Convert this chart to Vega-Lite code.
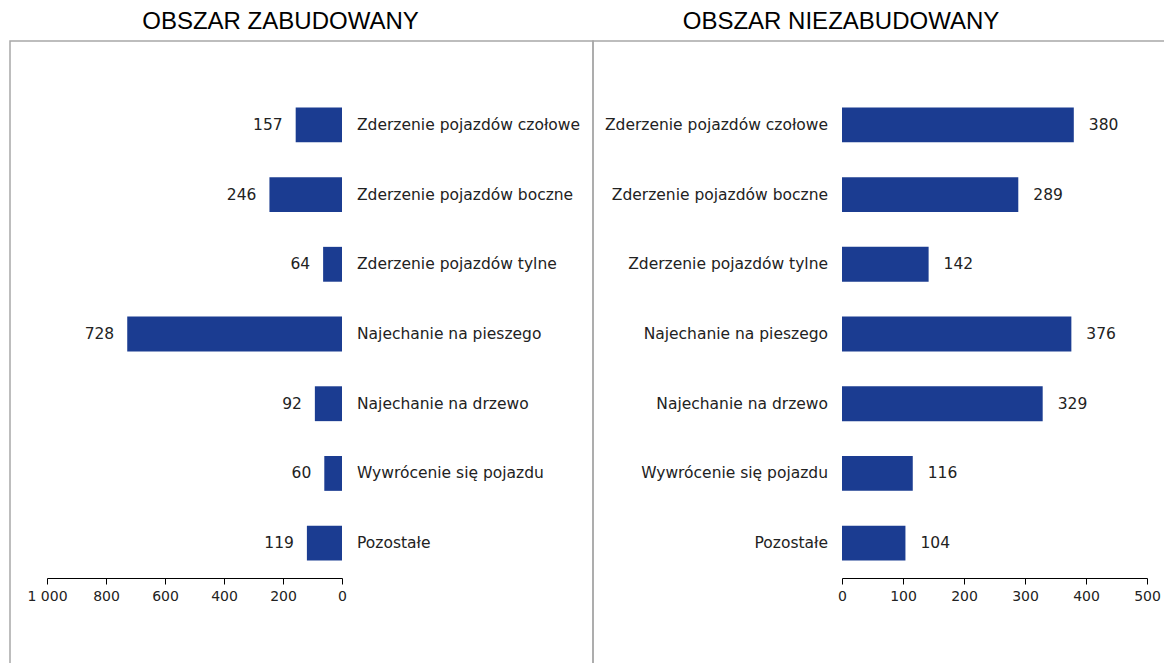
{
  "$schema": "https://vega.github.io/schema/vega-lite/v6.json",
  "padding": {"left": 9, "top": 9, "right": 0, "bottom": 0},
  "background": "white",
  "spacing": 0,
  "bounds": "flush",
  "config": {
    "view": {"stroke": "#a8a8a8", "strokeWidth": 1.5},
    "font": "DejaVu Sans",
    "title": {"font": "Liberation Sans", "fontSize": 24, "fontWeight": "normal", "color": "#000", "anchor": "middle", "baseline": "alphabetic", "offset": 7},
    "axis": {"labelFont": "DejaVu Sans", "labelFontSize": 14, "labelColor": "#222", "domainColor": "#000", "tickColor": "#000", "tickSize": 6, "grid": false, "title": null, "labelPadding": 5, "labelFlush": false}
  },
  "datasets": {
    "zab": [
      {"cat": "Zderzenie pojazdów czołowe", "v": 157},
      {"cat": "Zderzenie pojazdów boczne", "v": 246},
      {"cat": "Zderzenie pojazdów tylne", "v": 64},
      {"cat": "Najechanie na pieszego", "v": 728},
      {"cat": "Najechanie na drzewo", "v": 92},
      {"cat": "Wywrócenie się pojazdu", "v": 60},
      {"cat": "Pozostałe", "v": 119}
    ],
    "niezab": [
      {"cat": "Zderzenie pojazdów czołowe", "v": 380},
      {"cat": "Zderzenie pojazdów boczne", "v": 289},
      {"cat": "Zderzenie pojazdów tylne", "v": 142},
      {"cat": "Najechanie na pieszego", "v": 376},
      {"cat": "Najechanie na drzewo", "v": 329},
      {"cat": "Wywrócenie się pojazdu", "v": 116},
      {"cat": "Pozostałe", "v": 104}
    ]
  },
  "hconcat": [
    {
      "title": {"text": "OBSZAR ZABUDOWANY", "dx": -21},
      "width": 583,
      "height": 630,
      "data": {"name": "zab"},
      "encoding": {
        "y": {"field": "cat", "type": "nominal", "sort": null, "axis": null,
              "scale": {"range": [49, 537], "paddingInner": 0.5, "paddingOuter": 0.25}}
      },
      "layer": [
        {
          "mark": {"type": "bar", "color": "#1b3c91"},
          "encoding": {
            "x": {"field": "v", "type": "quantitative",
                  "scale": {"domain": [0, 1000], "range": [332, 37], "nice": false},
                  "axis": {"values": [0, 200, 400, 600, 800, 1000], "offset": -93,
                           "labelExpr": "datum.value == 1000 ? '1 000' : datum.label"}}
          }
        },
        {
          "mark": {"type": "text", "align": "right", "dx": -13, "fontSize": 15.5, "color": "#222"},
          "encoding": {"x": {"field": "v", "type": "quantitative"}, "text": {"field": "v"}}
        },
        {
          "mark": {"type": "text", "align": "left", "dx": 15, "fontSize": 15.5, "color": "#222"},
          "encoding": {"x": {"datum": 0, "type": "quantitative"}, "text": {"field": "cat"}}
        }
      ]
    },
    {
      "title": {"text": "OBSZAR NIEZABUDOWANY", "dx": -42},
      "width": 580,
      "height": 630,
      "data": {"name": "niezab"},
      "encoding": {
        "y": {"field": "cat", "type": "nominal", "sort": null, "axis": null,
              "scale": {"range": [49, 537], "paddingInner": 0.5, "paddingOuter": 0.25}}
      },
      "layer": [
        {
          "mark": {"type": "bar", "color": "#1b3c91"},
          "encoding": {
            "x": {"field": "v", "type": "quantitative",
                  "scale": {"domain": [0, 500], "range": [249, 554], "nice": false},
                  "axis": {"values": [0, 100, 200, 300, 400, 500], "offset": -93}}
          }
        },
        {
          "mark": {"type": "text", "align": "left", "dx": 15, "fontSize": 15.5, "color": "#222"},
          "encoding": {"x": {"field": "v", "type": "quantitative"}, "text": {"field": "v"}}
        },
        {
          "mark": {"type": "text", "align": "right", "dx": -14, "fontSize": 15.5, "color": "#222"},
          "encoding": {"x": {"datum": 0, "type": "quantitative"}, "text": {"field": "cat"}}
        }
      ]
    }
  ]
}
